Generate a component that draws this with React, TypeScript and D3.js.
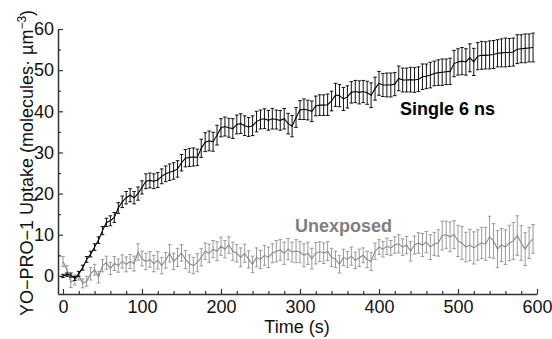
import React, { useEffect, useRef } from 'react';
import * as d3 from 'd3';

// sample times (s)
const timeS = [
  0, 5, 10, 15, 20, 25, 30, 35, 40, 45, 50, 55, 60, 65, 70, 75, 80, 85, 90, 95,
  100, 105, 110, 115, 120, 125, 130, 135, 140, 145, 150, 155, 160, 165, 170, 175, 180, 185, 190, 195,
  200, 205, 210, 215, 220, 225, 230, 235, 240, 245, 250, 255, 260, 265, 270, 275, 280, 285, 290, 295,
  300, 305, 310, 315, 320, 325, 330, 335, 340, 345, 350, 355, 360, 365, 370, 375, 380, 385, 390, 395,
  400, 405, 410, 415, 420, 425, 430, 435, 440, 445, 450, 455, 460, 465, 470, 475, 480, 485, 490, 495,
  500, 505, 510, 515, 520, 525, 530, 535, 540, 545, 550, 555, 560, 565, 570, 575, 580, 585, 590, 595,
];

const singleMean = [
  0.0, 0.3, 0.2, -0.6, 0.5, 2.0, 4.0, 5.3, 7.0, 8.7, 11.0, 13.0, 13.4, 14.2, 16.5, 18.0, 19.0, 19.6, 19.0, 20.0,
  21.5, 23.0, 23.2, 23.0, 23.3, 24.2, 24.8, 25.2, 25.5, 26.0, 27.5, 28.6, 28.8, 28.9, 28.8, 31.0, 32.5, 32.8, 32.6, 34.2,
  36.0, 36.3, 36.0, 35.8, 36.8, 37.0, 36.5, 36.2, 36.5, 37.5, 38.0, 38.2, 37.8, 38.2, 38.0, 37.8, 38.2, 37.0, 36.4, 38.5,
  40.3, 40.5, 40.3, 40.0, 41.3, 41.5, 41.5, 41.6, 42.5, 44.0, 43.8, 43.0, 43.5, 44.6, 44.8, 44.6, 44.8, 44.5, 43.9, 45.5,
  46.8, 46.4, 46.4, 46.4, 46.6, 48.0, 47.6, 47.6, 47.7, 47.6, 47.8, 48.4, 48.5, 48.8, 49.2, 49.4, 49.5, 49.6, 49.7, 51.6,
  52.0, 52.2, 52.0, 53.0, 52.0, 53.4, 53.6, 53.6, 53.7, 53.8, 54.1, 54.2, 54.3, 54.3, 54.4, 55.1, 55.2, 55.3, 55.4, 55.5,
];

const singleErr = [
  0.4, 0.4, 0.5, 0.5, 0.6, 0.6, 0.7, 0.7, 0.8, 0.8, 1.0, 1.0, 1.2, 1.2, 1.3, 1.4, 1.5, 1.6, 1.5, 1.6,
  1.6, 1.8, 1.8, 1.8, 1.8, 1.8, 1.9, 2.0, 2.0, 2.0, 2.0, 2.1, 2.2, 2.2, 2.0, 2.2, 2.3, 2.4, 2.3, 2.4,
  2.2, 2.3, 2.3, 2.4, 2.3, 2.4, 2.4, 2.3, 2.4, 2.5, 2.3, 2.4, 2.4, 2.5, 2.3, 2.4, 2.5, 2.5, 2.6, 2.4,
  2.3, 2.5, 2.4, 2.5, 2.4, 2.5, 2.5, 2.6, 2.4, 2.8, 2.7, 2.8, 2.7, 2.6, 2.7, 2.8, 2.7, 2.8, 3.0, 2.8,
  2.9, 2.8, 2.9, 2.9, 2.8, 3.0, 2.9, 2.9, 3.0, 3.0, 3.0, 3.1, 3.0, 3.1, 3.0, 3.1, 3.2, 3.1, 3.2, 3.2,
  3.2, 3.3, 3.2, 3.4, 3.3, 3.3, 3.4, 3.3, 3.4, 3.4, 3.3, 3.4, 3.5, 3.4, 3.4, 3.5, 3.4, 3.5, 3.4, 3.5,
];

const unexposedMean = [
  3.5, 1.5, -1.5, -1.0, 0.0, -1.8, -1.3, 0.5, 1.5, -0.3, 2.5, 3.2, 1.8, 3.0, 2.5, 3.5, 2.8, 3.5, 3.0, 5.8,
  4.2, 3.5, 4.0, 3.0, 3.8, 2.5, 3.8, 5.5, 3.5, 4.5, 5.6, 4.0, 3.0, 2.5, 3.2, 4.5, 6.0, 5.5, 6.5, 6.0,
  7.2, 6.5, 7.5, 6.0, 5.5, 4.5, 5.5, 4.0, 2.8, 4.5, 4.0, 5.0, 4.5, 5.5, 6.0, 6.3, 5.5, 6.5, 5.8, 6.0,
  5.8, 5.0, 5.5, 4.2, 5.5, 5.9, 5.5, 6.0, 4.5, 4.0, 2.8, 4.5, 4.0, 4.8, 3.8, 4.4, 5.0, 4.0, 3.5, 6.0,
  7.0, 6.5, 7.2, 6.8, 7.5, 7.8, 7.0, 7.5, 6.0, 7.5, 8.0, 7.5, 8.2, 7.0, 7.8, 8.0, 9.8, 10.0, 9.5, 10.0,
  8.5, 8.0, 7.0, 7.5, 6.8, 7.5, 8.0, 7.8, 9.5, 8.5, 6.5, 7.5, 7.0, 8.0, 8.5, 9.8, 8.0, 6.5, 8.0, 9.0,
];

const unexposedErr = [
  1.2, 1.0, 1.3, 1.2, 1.0, 1.1, 1.2, 1.5, 1.3, 1.4, 1.5, 1.6, 1.5, 1.7, 1.6, 1.6, 1.8, 1.7, 1.8, 2.0,
  1.8, 2.0, 1.9, 2.0, 2.1, 2.0, 1.9, 2.1, 2.0, 2.2, 2.0, 2.2, 2.1, 2.0, 2.2, 2.1, 2.0, 2.2, 2.1, 2.3,
  2.2, 2.1, 2.0, 2.2, 2.1, 2.3, 2.2, 2.1, 2.0, 2.3, 2.2, 2.4, 2.5, 2.3, 2.6, 2.5, 2.7, 2.6, 2.4, 2.8,
  2.6, 2.8, 2.7, 2.5, 2.6, 2.4, 2.5, 2.3, 2.2, 2.0, 2.1, 2.0, 1.9, 2.2, 2.0, 2.1, 1.8, 2.0, 2.2, 2.0,
  1.8, 1.9, 2.0, 1.8, 2.0, 2.2, 2.0, 2.1, 2.4, 2.2, 2.5, 2.8, 2.6, 3.0, 2.8, 3.2, 3.5, 3.3, 3.6, 3.4,
  3.8, 4.0, 3.6, 3.8, 3.9, 3.7, 3.8, 4.0, 5.0, 4.2, 4.5, 4.0, 4.2, 4.3, 4.5, 4.8, 4.2, 4.0, 3.8, 3.5,
];

const xTicks = [0, 100, 200, 300, 400, 500, 600];
const xMinorTicks = [20, 40, 60, 80, 120, 140, 160, 180, 220, 240, 260, 280, 320, 340, 360, 380, 420, 440, 460, 480, 520, 540, 560, 580];
const yTicks = [0, 10, 20, 30, 40, 50, 60];
const yMinorTicks = [5, 15, 25, 35, 45, 55];

const FONT = '"Liberation Sans", Arial, Helvetica, sans-serif';

interface Point {
  t: number;
  v: number;
  e: number;
}

export default function App() {
  const svgRef = useRef<SVGSVGElement>(null);
  const width = 552;
  const height = 339;

  useEffect(() => {
    if (!svgRef.current) return;
    const svg = d3.select(svgRef.current);
    svg.selectAll('*').remove();

    const x = d3.scaleLinear().domain([-6.3, 600]).range([58, 537]);
    const y = d3.scaleLinear().domain([-4.4, 60]).range([294, 29]);

    const axisColor = '#333';

    // x axis
    const gx = svg.append('g').attr('transform', `translate(0,${y(-4.4)})`);
    gx.call(
      d3.axisBottom(x).tickValues(xTicks).tickSizeInner(-5).tickSizeOuter(0).tickPadding(6).tickFormat(d3.format('d'))
    );
    gx.append('g').call(
      d3.axisBottom(x).tickValues(xMinorTicks).tickSizeInner(-3).tickSizeOuter(0).tickFormat(() => '')
    ).select('.domain').remove();

    // y axis
    const gy = svg.append('g').attr('transform', `translate(${x(-6.3)},0)`);
    gy.call(
      d3.axisLeft(y).tickValues(yTicks).tickSizeInner(-5).tickSizeOuter(0).tickPadding(4).tickFormat(d3.format('d'))
    );
    gy.append('g').call(
      d3.axisLeft(y).tickValues(yMinorTicks).tickSizeInner(-3).tickSizeOuter(0).tickFormat(() => '')
    ).select('.domain').remove();

    svg.selectAll('.domain').attr('stroke', axisColor).attr('stroke-width', 1.5);
    svg.selectAll('.tick line').attr('stroke', axisColor).attr('stroke-width', 1.2);
    svg.selectAll('.tick text')
      .attr('fill', '#111')
      .style('font-family', FONT)
      .style('font-size', '18px');

    const drawSeries = (means: number[], errs: number[], color: string, barColor: string) => {
      const pts: Point[] = timeS.map((t, i) => ({ t, v: means[i], e: errs[i] }));
      const g = svg.append('g');
      const cap = 1.8;
      g.append('path')
        .attr('fill', 'none')
        .attr('stroke', barColor)
        .attr('stroke-width', 1)
        .attr('d', pts.map(p => {
          const px = x(p.t);
          const y1 = y(p.v + p.e);
          const y2 = y(p.v - p.e);
          return `M${px},${y1}V${y2}M${px - cap},${y1}H${px + cap}M${px - cap},${y2}H${px + cap}`;
        }).join(''));

      const line = d3.line<Point>().x(d => x(d.t)).y(d => y(d.v));
      g.append('path')
        .datum(pts)
        .attr('fill', 'none')
        .attr('stroke', color)
        .attr('stroke-width', 1.1)
        .attr('d', line);
    };

    drawSeries(unexposedMean, unexposedErr, '#8a8a8a', '#9a9a9a');
    drawSeries(singleMean, singleErr, '#000', '#111');

    // series labels
    svg.append('text')
      .attr('x', 400)
      .attr('y', 115)
      .style('font-family', FONT)
      .style('font-size', '18px')
      .style('font-weight', 'bold')
      .attr('fill', '#000')
      .text('Single 6 ns');

    svg.append('text')
      .attr('x', 295)
      .attr('y', 232)
      .style('font-family', FONT)
      .style('font-size', '18px')
      .style('font-weight', 'bold')
      .attr('fill', '#808080')
      .text('Unexposed');

    // axis titles
    svg.append('text')
      .attr('x', 297)
      .attr('y', 333)
      .attr('text-anchor', 'middle')
      .style('font-family', FONT)
      .style('font-size', '18px')
      .attr('fill', '#111')
      .text('Time (s)');

    const yl = svg.append('text')
      .attr('transform', 'rotate(-90)')
      .attr('x', -163)
      .attr('y', 33)
      .attr('text-anchor', 'middle')
      .style('font-family', FONT)
      .style('font-size', '18px')
      .attr('fill', '#111');
    yl.append('tspan').text('YO\u2212PRO\u22121 Uptake (molecules\u00b7 \u00b5m');
    yl.append('tspan').attr('dy', -7).style('font-size', '12px').text('\u22123');
    yl.append('tspan').attr('dy', 7).text(')');
  }, []);

  return (
    <div style={{ position: 'absolute', left: 0, top: 0 }}>
      <svg ref={svgRef} width={width} height={height} style={{ display: 'block', background: '#fff' }} />
    </div>
  );
}
